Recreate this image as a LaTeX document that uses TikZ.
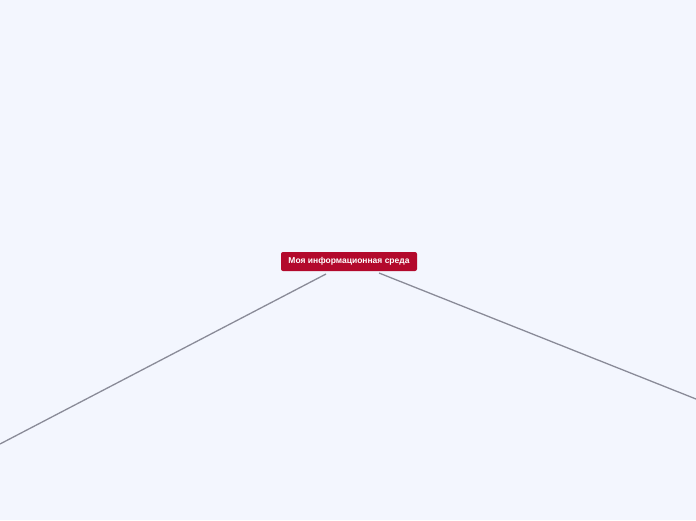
\documentclass[tikz,border=0pt]{standalone}
\usepackage{fontspec}
\setmainfont{Liberation Sans}
\definecolor{bgc}{HTML}{F3F6FE}
\definecolor{rootc}{HTML}{B3092C}
\definecolor{linec}{HTML}{8A8B98}
\begin{document}
\begin{tikzpicture}[x=1pt,y=-1pt,
  rootbox/.style={fill=rootc,text=white,rounded corners=2pt,inner sep=0pt,
    minimum width=136pt,minimum height=19pt,font=\fontsize{8.5}{10}\selectfont\bfseries},
  branch/.style={draw=linec,line width=1.3pt}]
\fill[bgc] (0,0) rectangle (696,520);
\useasboundingbox (0,0) rectangle (696,520);
\node[rootbox] (root) at (349,261.5) {Моя информационная среда};
\coordinate (lstart) at (326,274);
\coordinate (rstart) at (379,273);
\coordinate (lend) at (0,444);
\coordinate (rend) at (696,399);
\draw[branch] (lstart) -- (lend);
\draw[branch] (rstart) -- (rend);
\end{tikzpicture}
\end{document}
